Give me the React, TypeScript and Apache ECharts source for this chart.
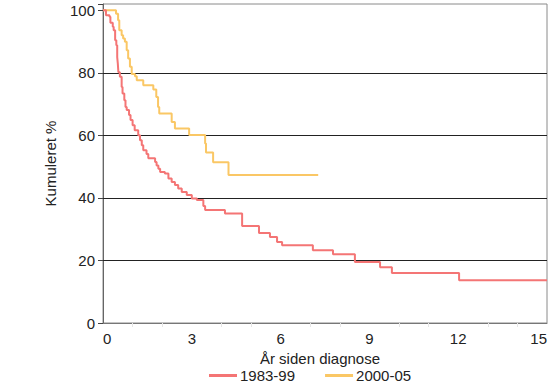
import React, { useEffect, useRef } from "react";
import * as echarts from "echarts";

// Kaplan-Meier style step data: [years since diagnosis, cumulative %] (level after the step)
const years1983: number[] = [0, 0.1, 0.22, 0.25, 0.33, 0.36, 0.41, 0.45, 0.48, 0.5, 0.52, 0.57, 0.63, 0.66, 0.72, 0.76, 0.8, 0.88, 0.93, 1.0, 1.07, 1.19, 1.25, 1.31, 1.36, 1.47, 1.53, 1.76, 1.81, 1.87, 1.93, 2.09, 2.21, 2.32, 2.43, 2.54, 2.66, 2.83, 3.0, 3.17, 3.39, 3.45, 4.12, 4.7, 5.27, 5.64, 5.88, 6.05, 7.09, 7.77, 8.51, 9.36, 9.76, 12.03, 15.0];
const pct1983: number[] = [100, 98.4, 97.9, 96, 94.7, 93.6, 90.4, 88.8, 85, 83, 80.2, 78.7, 75.5, 73.4, 71.2, 69.1, 68.1, 66.5, 64.9, 63.2, 61.6, 60, 58.4, 56.8, 55.2, 54, 52.7, 51.5, 50.4, 49.3, 48.3, 47.8, 46.2, 45.1, 44.1, 43.0, 41.9, 40.9, 39.8, 39.3, 37.4, 36.1, 35.0, 31.0, 28.8, 27.5, 25.9, 24.9, 23.3, 22.0, 19.5, 17.8, 16.0, 13.7, 13.7];

const years2000: number[] = [0, 0.44, 0.51, 0.55, 0.63, 0.68, 0.74, 0.8, 0.85, 0.91, 0.97, 1.08, 1.14, 1.36, 1.7, 1.8, 1.86, 1.9, 2.32, 2.43, 2.91, 3.45, 3.48, 3.72, 4.24, 7.27];
const pct2000: number[] = [100, 98.9, 96.8, 93.6, 92, 91, 89.9, 87.2, 84.6, 81.9, 79.6, 78.9, 77.6, 76.0, 74.7, 72.3, 69.1, 67.0, 64.3, 62.2, 60.1, 57.4, 54.5, 51.4, 47.3, 47.3];

const seriesNames: string[] = ["1983-99", "2000-05"];
const gridLevels: number[] = [20, 40, 60, 80];
const xTicks: number[] = [0, 3, 6, 9, 12, 15];

const FONT = "Liberation Sans, Arial, sans-serif";

export default function App() {
  const ref = useRef<HTMLDivElement>(null);

  useEffect(() => {
    document.body.style.margin = "0";
    if (!ref.current) return;
    const chart = echarts.init(ref.current, undefined, { renderer: "svg" });
    const d1 = years1983.map((t, i) => [t, pct1983[i]]);
    const d2 = years2000.map((t, i) => [t, pct2000[i]]);
    chart.setOption({
      animation: false,
      textStyle: { fontFamily: FONT },
      grid: {
        left: 103,
        right: 13,
        top: 4,
        bottom: 66,
        show: true,
        borderColor: "#8a8a8a",
        borderWidth: 1,
        backgroundColor: "transparent",
      },
      legend: {
        top: 366,
        left: 207,
        padding: 2,
        itemWidth: 28,
        itemHeight: 3,
        itemGap: 30,
        icon: "rect",
        data: seriesNames,
        textStyle: { fontFamily: FONT, fontSize: 15, color: "#222", padding: [0, 0, 0, -2] },
      },
      xAxis: {
        type: "value",
        min: 0,
        max: 15,
        interval: 3,
        name: "År siden diagnose",
        nameLocation: "middle",
        nameGap: 25,
        nameTextStyle: { fontFamily: FONT, fontSize: 15, color: "#222", padding: [0, 10, 0, 0] },
        axisLine: { show: true, lineStyle: { color: "#777" } },
        axisTick: { show: false },
        minorTick: { show: true, splitNumber: 3, length: 4, lineStyle: { color: "#e6e6e6" } },
        splitLine: { show: false },
        axisLabel: {
          fontFamily: FONT,
          fontSize: 15,
          color: "#222",
          margin: 8,
          alignMinLabel: "left",
          alignMaxLabel: "right",
          formatter: (v: number) => (xTicks.includes(v) ? String(v) : ""),
        },
      },
      yAxis: {
        type: "value",
        min: 0,
        max: 102,
        interval: 20,
        name: "Kumuleret %",
        nameLocation: "middle",
        nameGap: 45,
        nameTextStyle: { fontFamily: FONT, fontSize: 15, color: "#222" },
        axisLine: { show: true, lineStyle: { color: "#666" } },
        axisTick: { show: true, length: 5, lineStyle: { color: "#444" } },
        splitLine: { show: false },
        axisLabel: {
          fontFamily: FONT,
          fontSize: 15,
          color: "#222",
          margin: 8,
          formatter: (v: number) => (v % 20 === 0 ? String(v) : ""),
        },
      },
      series: [
        {
          name: seriesNames[0],
          type: "line",
          step: "end",
          data: d1,
          showSymbol: false,
          symbol: "none",
          color: "#f47575",
          lineStyle: { width: 2, color: "#f47575" },
          z: 3,
          markLine: {
            silent: true,
            symbol: "none",
            label: { show: false },
            lineStyle: { color: "#222", width: 1, type: "solid" },
            data: gridLevels.map((v) => ({ yAxis: v })),
            z: 1,
          },
        },
        {
          name: seriesNames[1],
          type: "line",
          step: "end",
          data: d2,
          showSymbol: false,
          symbol: "none",
          color: "#fac765",
          lineStyle: { width: 2, color: "#fac765" },
          z: 2,
        },
      ],
    });
    return () => chart.dispose();
  }, []);

  return <div ref={ref} style={{ width: 560, height: 389 }} />;
}
